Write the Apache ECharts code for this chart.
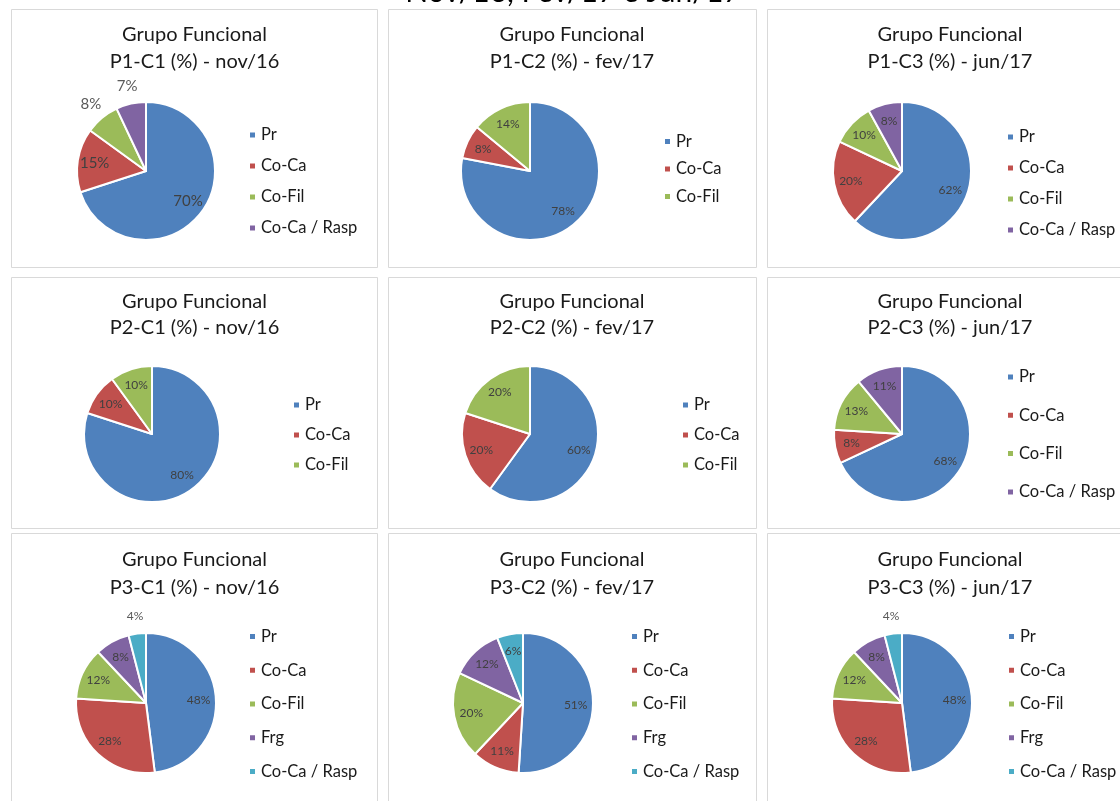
<!DOCTYPE html>
<html>
<head>
<meta charset="utf-8">
<script src="https://cdn.jsdelivr.net/npm/echarts@6/dist/echarts.min.js"></script>
<style>
  html, body { margin: 0; padding: 0; background: #ffffff; }
  #chart { width: 1120px; height: 801px; }
</style>
</head>
<body>
<div id="chart"></div>
<script>
// ---- data ----
const headline = 'Nov/16, Fev/17 e Jun/17';
const titleTop = 'Grupo Funcional';

const groups3 = ['Pr', 'Co-Ca', 'Co-Fil'];
const groups4 = ['Pr', 'Co-Ca', 'Co-Fil', 'Co-Ca / Rasp'];
const groups5 = ['Pr', 'Co-Ca', 'Co-Fil', 'Frg', 'Co-Ca / Rasp'];

const p1c1 = [70, 15, 8, 7];
const p1c2 = [78, 8, 14];
const p1c3 = [62, 20, 10, 8];
const p2c1 = [80, 10, 10];
const p2c2 = [60, 20, 20];
const p2c3 = [68, 8, 13, 11];
const p3c1 = [48, 28, 12, 8, 4];
const p3c2 = [51, 11, 20, 12, 6];
const p3c3 = [48, 28, 12, 8, 4];

const subtitles = [
  'P1-C1 (%) - nov/16', 'P1-C2 (%) - fev/17', 'P1-C3 (%) - jun/17',
  'P2-C1 (%) - nov/16', 'P2-C2 (%) - fev/17', 'P2-C3 (%) - jun/17',
  'P3-C1 (%) - nov/16', 'P3-C2 (%) - fev/17', 'P3-C3 (%) - jun/17'
];

// slice colours follow the order of the categories
const palette = ['#4F81BD', '#C0504D', '#9BBB59', '#8064A2', '#4BACC6'];

// ---- layout of the 3x3 grid ----
const FONT = 'Lato, "Open Sans", sans-serif';
const panels = [
  { names: groups4, values: p1c1, box: [11.5, 9.5, 366, 258], tx: 194.5, ty: 35, lh: 26.5, cx: 146, cy: 171, r: 69, lg: [248, 126, 13], fs: 15, outside: [2, 3] },
  { names: groups3, values: p1c2, box: [388.5, 9.5, 368, 258], tx: 572, ty: 35, lh: 26.5, cx: 530, cy: 171, r: 69, lg: [663, 132.5, 9.5], fs: 12, outside: [] },
  { names: groups4, values: p1c3, box: [767.5, 9.5, 366, 258], tx: 950, ty: 35, lh: 26.5, cx: 902, cy: 171, r: 69, lg: [1006, 128, 13], fs: 12, outside: [] },
  { names: groups3, values: p2c1, box: [11.5, 277.5, 366, 251], tx: 194.5, ty: 302, lh: 25.5, cx: 152, cy: 434, r: 68, lg: [292, 396, 12], fs: 12, outside: [] },
  { names: groups3, values: p2c2, box: [388.5, 277.5, 368, 251], tx: 572, ty: 302, lh: 25.5, cx: 530, cy: 434, r: 68, lg: [681, 396, 12], fs: 12, outside: [] },
  { names: groups4, values: p2c3, box: [767.5, 277.5, 366, 251], tx: 950, ty: 302, lh: 25.5, cx: 902, cy: 434, r: 68, lg: [1006, 368, 20.3], fs: 12, outside: [] },
  { names: groups5, values: p3c1, box: [11.5, 533.5, 366, 300], tx: 194.5, ty: 560, lh: 27.5, cx: 146, cy: 703, r: 70, lg: [248, 627.5, 15.75], fs: 12, outside: [4] },
  { names: groups5, values: p3c2, box: [388.5, 533.5, 368, 300], tx: 572, ty: 560, lh: 27.5, cx: 523, cy: 703, r: 70, lg: [630, 627.5, 15.75], fs: 12, outside: [] },
  { names: groups5, values: p3c3, box: [767.5, 533.5, 366, 300], tx: 950, ty: 560, lh: 27.5, cx: 902, cy: 703, r: 70, lg: [1007, 627.5, 15.75], fs: 12, outside: [4] }
];

const series = [];
const legends = [];
const graphics = [];

graphics.push({
  type: 'text', x: 573, y: -8, silent: true,
  style: { text: headline, font: '30px ' + FONT, fill: '#000000', align: 'center', verticalAlign: 'middle' }
});

panels.forEach((p, i) => {
  // panel frame
  graphics.push({
    type: 'rect', silent: true,
    shape: { x: p.box[0], y: p.box[1], width: p.box[2], height: p.box[3] },
    style: { fill: 'none', stroke: '#d9d9d9', lineWidth: 1 }
  });
  // two-line panel title
  graphics.push({
    type: 'text', x: p.tx, y: p.ty, silent: true,
    style: { text: titleTop, font: '20px ' + FONT, fill: '#1a1a1a', align: 'center', verticalAlign: 'middle' }
  });
  graphics.push({
    type: 'text', x: p.tx, y: p.ty + p.lh, silent: true,
    style: { text: subtitles[i], font: '20px ' + FONT, fill: '#1a1a1a', align: 'center', verticalAlign: 'middle' }
  });

  const slices = p.names.map((n, k) => ({ name: n, value: p.values[k], itemStyle: { color: palette[k] } }));

  // coloured pie
  series.push({
    type: 'pie', center: [p.cx, p.cy], radius: [0, p.r],
    startAngle: 90, clockwise: true, silent: true, animation: false,
    label: { show: false }, labelLine: { show: false },
    itemStyle: { borderColor: '#ffffff', borderWidth: 2 },
    data: slices
  });

  // value labels inside the slices
  series.push({
    type: 'pie', center: [p.cx, p.cy], radius: [p.r * 0.42, p.r],
    startAngle: 90, clockwise: true, silent: true, animation: false,
    avoidLabelOverlap: false,
    itemStyle: { color: 'rgba(0,0,0,0)', borderWidth: 0 },
    labelLine: { show: false },
    label: {
      show: true, position: 'inside', formatter: '{c}%',
      fontFamily: FONT, fontSize: p.fs, color: '#404040'
    },
    data: p.names.map((n, k) => ({
      name: n, value: p.values[k],
      label: { show: p.outside.indexOf(k) < 0 }
    }))
  });

  // value labels just outside the small slices
  if (p.outside.length) {
    series.push({
      type: 'pie', center: [p.cx, p.cy], radius: [p.r, p.r * 1.42],
      startAngle: 90, clockwise: true, silent: true, animation: false,
      avoidLabelOverlap: false,
      itemStyle: { color: 'rgba(0,0,0,0)', borderWidth: 0 },
      labelLine: { show: false },
      label: {
        show: true, position: 'inside', formatter: '{c}%',
        fontFamily: FONT, fontSize: p.fs, color: '#595959'
      },
      data: p.names.map((n, k) => ({
        name: n, value: p.values[k],
        label: { show: p.outside.indexOf(k) >= 0 }
      }))
    });
  }

  legends.push({
    orient: 'vertical', left: p.lg[0], top: p.lg[1], itemGap: p.lg[2],
    itemWidth: 7, itemHeight: 7, icon: 'rect', selectedMode: false,
    padding: 0,
    textStyle: { fontFamily: FONT, fontSize: 16.5, color: '#1a1a1a', lineHeight: 18 },
    data: p.names.map((n, k) => ({ name: n, itemStyle: { color: palette[k] } }))
  });
});

const chart = echarts.init(document.getElementById('chart'), null, { renderer: 'canvas' });
chart.setOption({
  backgroundColor: '#ffffff',
  animation: false,
  legend: legends,
  series: series,
  graphic: graphics
});
</script>
</body>
</html>
